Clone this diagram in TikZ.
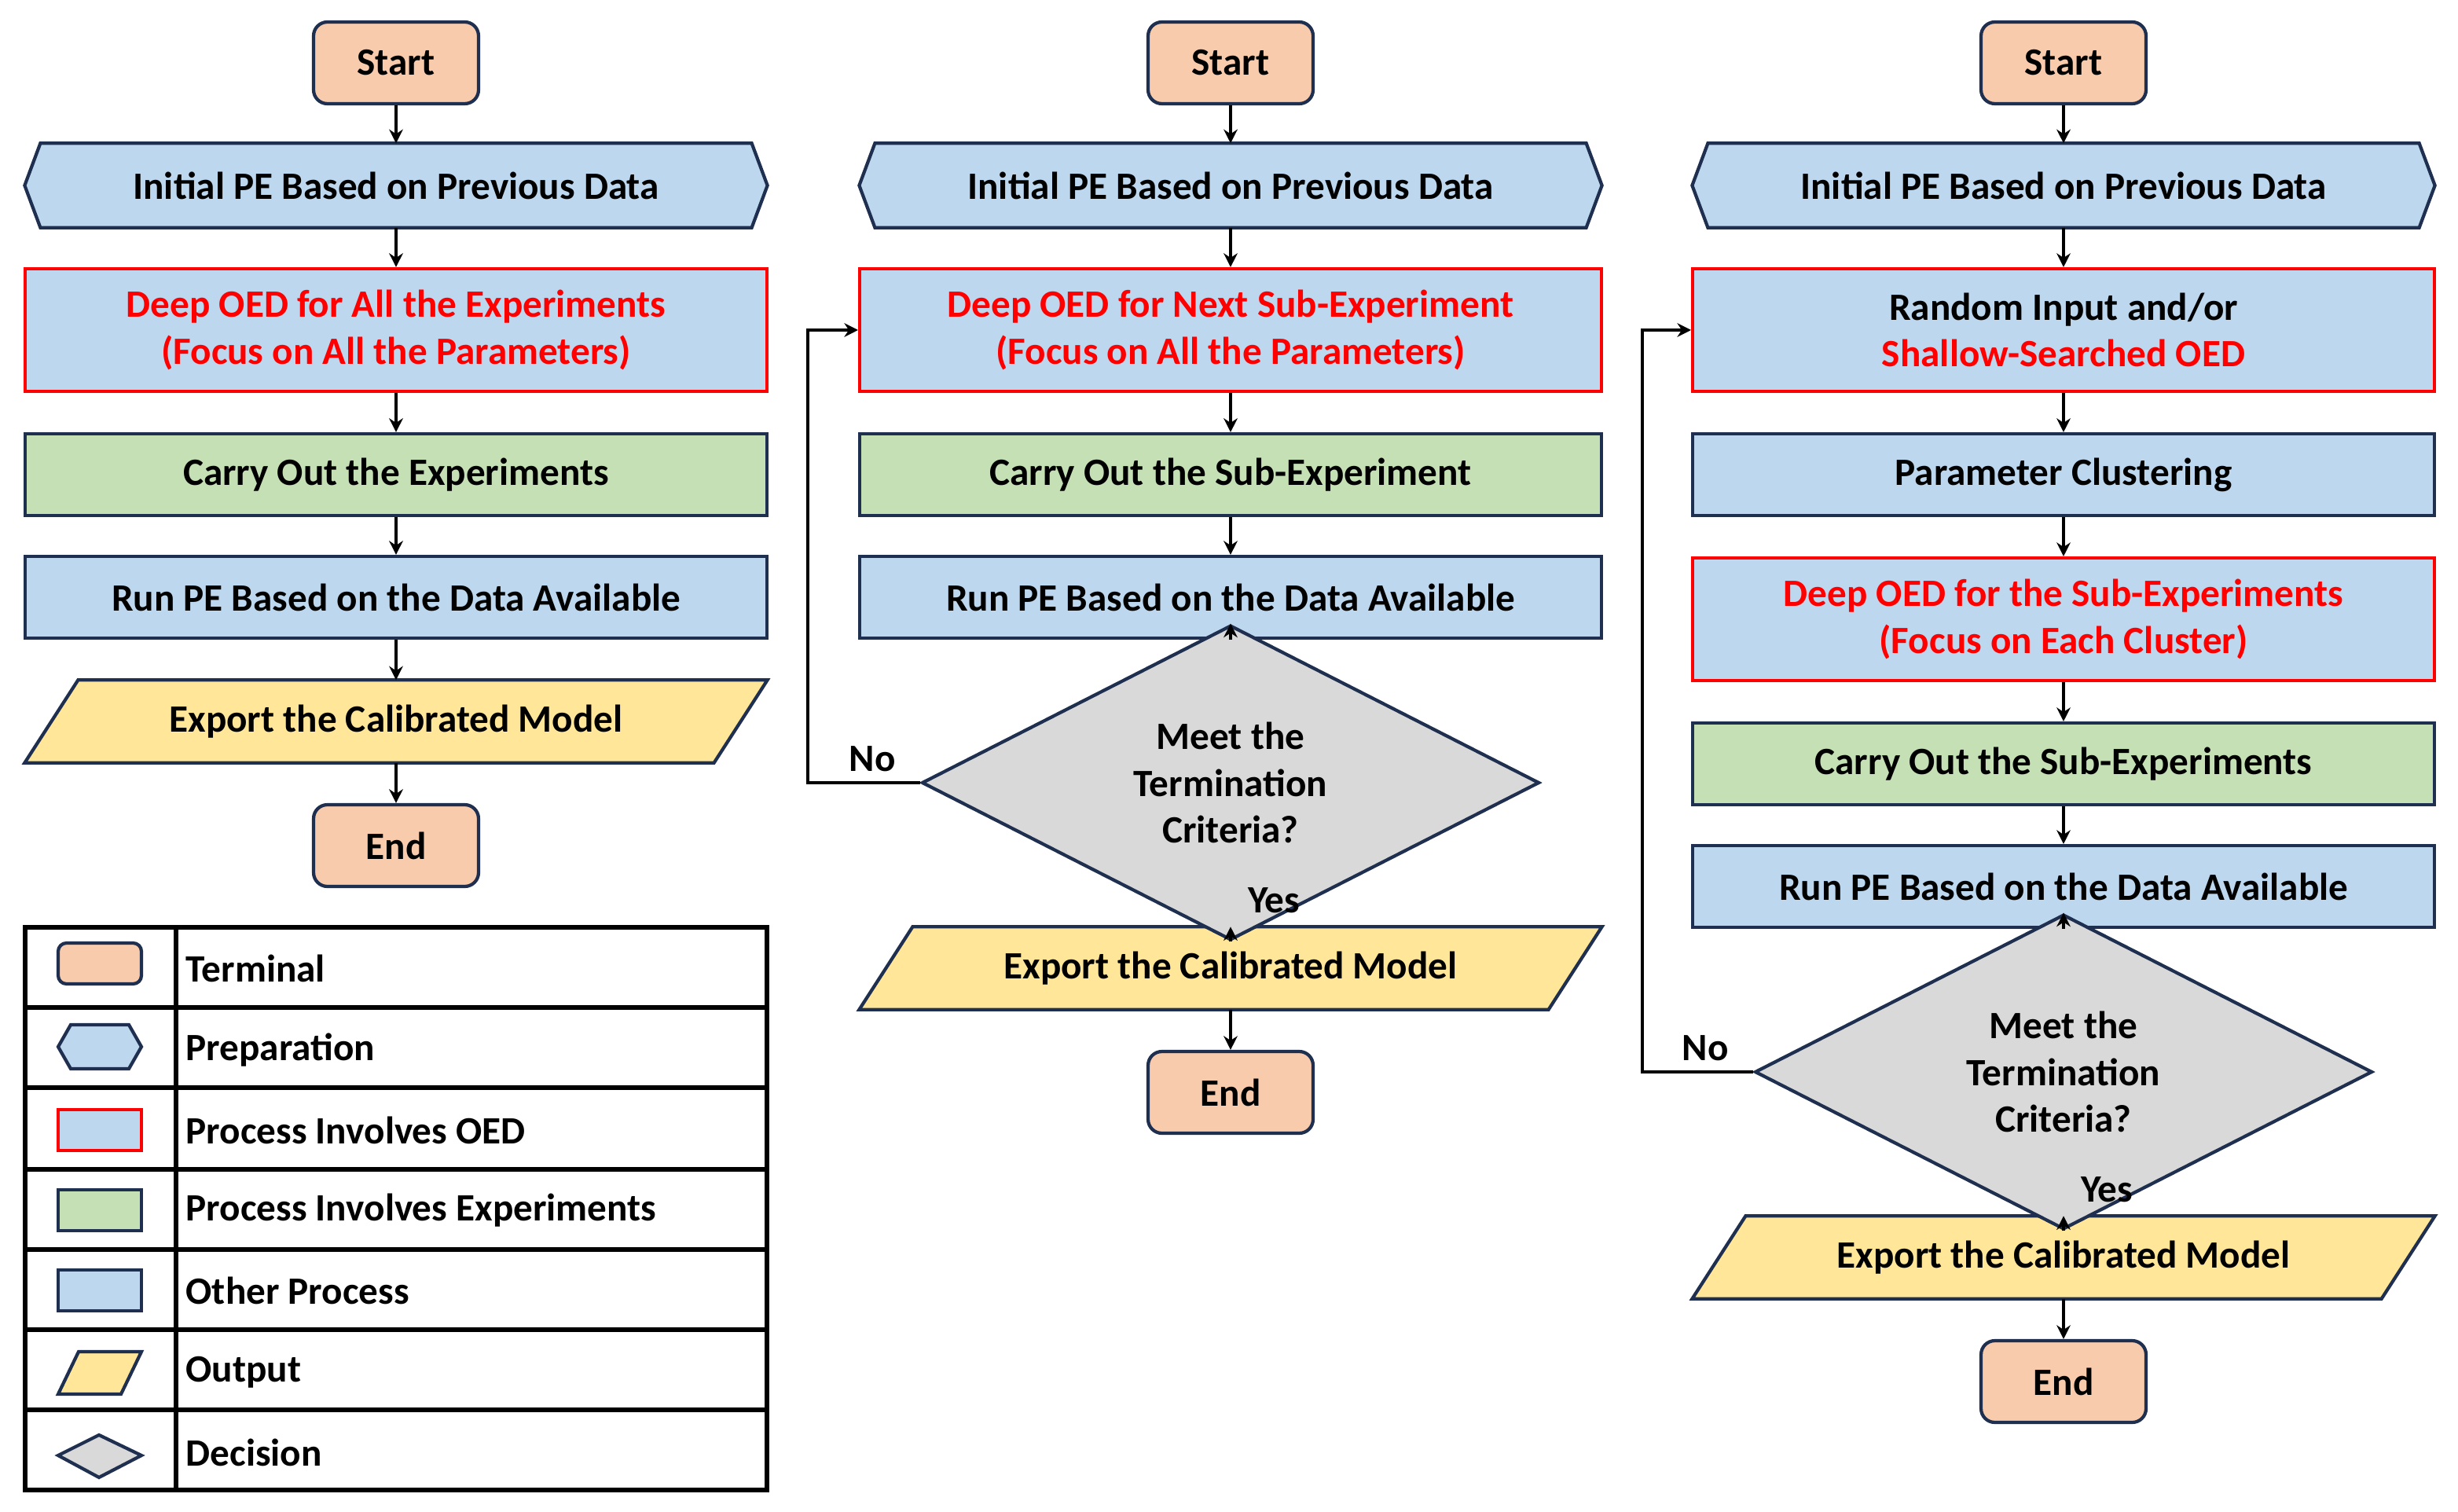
\documentclass[tikz,border=0pt]{standalone}
\usepackage{fontspec}
\setmainfont{Carlito}
\usetikzlibrary{shapes.geometric,backgrounds,arrows.meta}
\definecolor{bd}{HTML}{1F2F4F}
\definecolor{pch}{HTML}{F8CBAD}
\definecolor{blu}{HTML}{BDD7EE}
\definecolor{grn}{HTML}{C5E0B4}
\definecolor{yel}{HTML}{FFE699}
\definecolor{gry}{HTML}{D9D9D9}
\definecolor{rd}{HTML}{FF0000}
\newcommand{\hexa}[1]{\begin{scope}[on background layer]\draw[shp,fill=blu] (#1.west) -- ([xshift=0.2cm]#1.north west) -- ([xshift=-0.2cm]#1.north east) -- (#1.east) -- ([xshift=-0.2cm]#1.south east) -- ([xshift=0.2cm]#1.south west) -- cycle;\end{scope}}
\newcommand{\para}[1]{\begin{scope}[on background layer]\draw[shp,fill=yel] (#1.south west) -- ([xshift=0.68cm]#1.north west) -- (#1.north east) -- ([xshift=-0.68cm]#1.south east) -- cycle;\end{scope}}
\begin{document}
\begin{tikzpicture}[x=0.02cm,y=-0.02cm,
 font=\fontsize{14}{17}\selectfont\bfseries,
 shp/.style={draw=bd,line width=1.2pt},
 box/.style={shp,fill=blu,minimum width=9.44cm,minimum height=1.04cm,inner sep=0pt,align=center},
 oed/.style={box,draw=rd,text=rd,minimum height=1.56cm},
 exp/.style={box,fill=grn},
 term/.style={shp,fill=pch,rounded corners=5pt,minimum width=2.1cm,minimum height=1.04cm,inner sep=0pt},
 prep/.style={minimum width=9.44cm,minimum height=1.06cm,inner sep=0pt},
 outp/.style={minimum width=9.44cm,minimum height=1.04cm,inner sep=0pt},
 dec/.style={shp,fill=gry,diamond,minimum width=7.86cm,minimum height=2.62cm,inner sep=0pt,align=center},
 ar/.style={line width=1.2pt,-{Stealth[length=5pt,width=5pt]}},
 lbl/.style={inner sep=1pt}]
\useasboundingbox (0,0) rectangle (1564,962);
% column 1
\node[term] (s1) at (252,40) {Start};
\node[prep] (p1) at (252,118) {Initial PE Based on Previous Data}; \hexa{p1}
\node[oed] (o1) at (252,210) {Deep OED for All the Experiments\\(Focus on All the Parameters)};
\node[exp] (c1) at (252,302) {Carry Out the Experiments};
\node[box] (r1) at (252,380) {Run PE Based on the Data Available};
\node[outp] (e1) at (252,459) {Export the Calibrated Model}; \para{e1}
\node[term] (n1) at (252,538) {End};
\foreach \a/\b in {s1/p1,p1/o1,o1/c1,c1/r1,r1/e1,e1/n1} \draw[ar] (\a) -- (\b);
% column 2
\node[term] (s2) at (783,40) {Start};
\node[prep] (p2) at (783,118) {Initial PE Based on Previous Data}; \hexa{p2}
\node[oed] (o2) at (783,210) {Deep OED for Next Sub-Experiment\\(Focus on All the Parameters)};
\node[exp] (c2) at (783,302) {Carry Out the Sub-Experiment};
\node[box] (r2) at (783,380) {Run PE Based on the Data Available};
\node[dec] (d2) at (783,498) {Meet the\\Termination\\Criteria?};
\node[outp] (e2) at (783,616) {Export the Calibrated Model}; \para{e2}
\node[term] (n2) at (783,695) {End};
\foreach \a/\b in {s2/p2,p2/o2,o2/c2,c2/r2,r2/d2,d2/e2,e2/n2} \draw[ar] (\a) -- (\b);
\coordinate (l2) at (514,498);
\draw[ar] (d2.west) -- (l2) |- (o2.west);
\node[lbl,anchor=south] (no2) at (555,493) {No};
\node[lbl,anchor=west] (y2) at (792,573) {Yes};
% column 3
\node[term] (s3) at (1313,40) {Start};
\node[prep] (p3) at (1313,118) {Initial PE Based on Previous Data}; \hexa{p3}
\node[oed,text=black] (o3) at (1313,210) {Random Input and/or\\\textcolor{rd}{Shallow-Searched OED}};
\node[box] (k3) at (1313,302) {Parameter Clustering};
\node[oed] (q3) at (1313,394) {Deep OED for the Sub-Experiments\\(Focus on Each Cluster)};
\node[exp] (c3) at (1313,486) {Carry Out the Sub-Experiments};
\node[box] (r3) at (1313,564) {Run PE Based on the Data Available};
\node[dec] (d3) at (1313,682) {Meet the\\Termination\\Criteria?};
\node[outp] (e3) at (1313,800) {Export the Calibrated Model}; \para{e3}
\node[term] (n3) at (1313,879) {End};
\foreach \a/\b in {s3/p3,p3/o3,o3/k3,k3/q3,q3/c3,c3/r3,r3/d3,d3/e3,e3/n3} \draw[ar] (\a) -- (\b);
\coordinate (l3) at (1045,682);
\draw[ar] (d3.west) -- (l3) |- (o3.west);
\node[lbl,anchor=south] (no3) at (1085,677) {No};
\node[lbl,anchor=west] (y3) at (1322,757) {Yes};
% legend
\draw[line width=1.5pt] (16,590) rectangle (488,948);
\draw[line width=1.5pt] (112,590) -- (112,948);
\foreach \y in {641,692,744,795,846,897} \draw[line width=1.5pt] (16,\y) -- (488,\y);
\draw[shp,fill=pch,rounded corners=3pt] (37,600) rectangle (90,626);
\draw[shp,fill=blu] (37,666) -- (45,652) -- (82,652) -- (90,666) -- (82,680) -- (45,680) -- cycle;
\draw[shp,draw=rd,fill=blu] (37,706) rectangle (90,732);
\draw[shp,fill=grn] (37,757) rectangle (90,783);
\draw[shp,fill=blu] (37,808) rectangle (90,834);
\draw[shp,fill=yel] (37,887) -- (50,860) -- (90,860) -- (77,887) -- cycle;
\draw[shp,fill=gry] (37,926) -- (63,913) -- (90,926) -- (63,940) -- cycle;
\foreach \t/\y [count=\i] in {Terminal/616,Preparation/668,Process Involves OED/719,Process Involves Experiments/770,Other Process/821,Output/873,Decision/924}
  \node[anchor=west,inner sep=0pt] (leg\i) at (118,\y) {\t};
\end{tikzpicture}
\end{document}
